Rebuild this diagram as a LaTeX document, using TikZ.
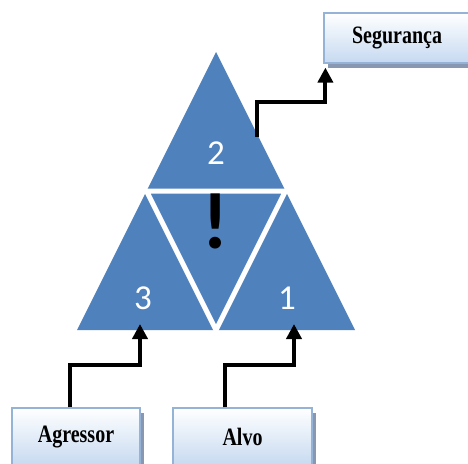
\documentclass[tikz,border=0pt]{standalone}
\usepackage{xcolor}
\usepackage{fontspec}
\setmainfont{Carlito}
\newfontfamily\boxfont[FakeStretch=0.8]{Liberation Serif}
\usepackage{tikz}
\usetikzlibrary{calc, arrows.meta, shadows}

\definecolor{triblue}{RGB}{79,129,189}
\definecolor{boxline}{RGB}{149,179,215}
\definecolor{boxfill}{RGB}{198,217,241}
\definecolor{boxshadow}{RGB}{136,152,178}

\begin{document}
\begin{tikzpicture}[x=1pt, y=-1pt,
	box/.style={draw=boxline, line width=1.2pt, top color=white, bottom color=boxfill, inner sep=0pt,
		font=\boxfont\bfseries\fontsize{25}{25}\selectfont,
		general shadow={fill=boxshadow, shadow xshift=4pt, shadow yshift=-5pt}},
	conn/.style={line width=4pt, -{Triangle[length=15pt, width=15pt]}},
	num/.style={white, font=\fontsize{35}{35}\selectfont}]
	\useasboundingbox (0,0) rectangle (468,463);
	
	% big triangle, the gaps are cut out in white
	\fill [triblue] (216,52) -- (355,330) -- (77,330) -- cycle;
	\draw [white, line width=5pt] (146.5,191) -- (285.5,191) -- (216,330) -- cycle;
	
	\node (n2) at (216,153) [num] {2};
	\node (n3) at (143,298) [num] {3};
	\node (n1) at (287,298) [num] {1};
	\node (excl) at (216,221) [font=\bfseries\fontsize{80}{80}\selectfont] {!};
	
	% boxes
	\node (seg) at (397,38) [box, minimum width=146pt, minimum height=50pt] {Segurança};
	\node (agr) at (76,437) [box, minimum width=128pt, minimum height=58pt] {Agressor};
	\node (alvo) at (242.5,437) [box, minimum width=139pt, minimum height=58pt] {Alvo};
	
	% connectors
	\coordinate (p2) at (257,137);
	\coordinate (p3) at (140,324);
	\coordinate (p1) at (294,324);
	\draw [conn] (p2) -- ++(0,-35) -| ([xshift=2pt, yshift=-4pt]seg.south west);
	\draw [conn] ([xshift=-6pt]agr.north) -- ++(0,-42) -| (p3);
	\draw [conn] ([xshift=-17.5pt]alvo.north) -- ++(0,-42) -| (p1);
\end{tikzpicture}
\end{document}
